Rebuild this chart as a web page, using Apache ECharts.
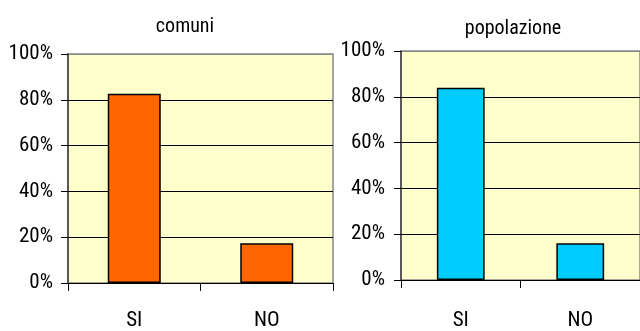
<!DOCTYPE html>
<html><head><meta charset="utf-8">
<script src="https://cdn.jsdelivr.net/npm/echarts@6/dist/echarts.min.js"></script>
<style>html,body{margin:0;padding:0;background:#fff}#c{width:640px;height:331px}</style>
</head><body><div id="c"></div>
<script>
var categories = ['SI', 'NO'];
var comuniValues = [82.6, 17.4];
var popolazioneValues = [84, 16];
var titles = ['comuni', 'popolazione'];
var yTicks = [0, 20, 40, 60, 80, 100];

var FONT = "'Roboto Condensed', 'Liberation Sans', sans-serif";
var chart = echarts.init(document.getElementById('c'));

function xAxis(gi, margin) {
  return {
    type: 'category', gridIndex: gi, data: categories,
    axisLine: {lineStyle: {color: '#000', width: 1}},
    axisTick: {show: true, length: 8, lineStyle: {color: '#000'}},
    axisLabel: {color: '#000', fontFamily: FONT, fontSize: 21, margin: margin}
  };
}
function yAxis(gi, margin) {
  return {
    type: 'value', gridIndex: gi, min: yTicks[0], max: yTicks[yTicks.length - 1], interval: 20,
    axisLine: {show: true, lineStyle: {color: '#404040', width: 1.5}},
    axisTick: {show: true, length: 7, lineStyle: {color: '#000'}},
    axisLabel: {color: '#000', fontFamily: FONT, fontSize: 21, margin: margin, formatter: '{value}%'},
    splitLine: {show: true, lineStyle: {color: ['#000', '#000', '#000', '#000', '#000', '#888'], width: 1}}
  };
}

chart.setOption({
  animation: false,
  title: [
    {text: titles[0], left: 180, top: 12, textAlign: 'center',
     textStyle: {fontFamily: FONT, fontSize: 20, fontWeight: 'normal', color: '#000'}},
    {text: titles[1], left: 508, top: 14, textAlign: 'center',
     textStyle: {fontFamily: FONT, fontSize: 20, fontWeight: 'normal', color: '#000'}}
  ],
  grid: [
    {left: 68, top: 54, width: 265, height: 230, show: true, backgroundColor: '#FFFFCC', borderColor: '#888', borderWidth: 1.5},
    {left: 401, top: 51, width: 247, height: 235, show: true, backgroundColor: '#FFFFCC', borderColor: '#888', borderWidth: 1.5}
  ],
  xAxis: [xAxis(0, 27), xAxis(1, 30)],
  yAxis: [yAxis(0, 15), yAxis(1, 16)],
  series: [
    {type: 'bar', xAxisIndex: 0, yAxisIndex: 0, data: comuniValues, barWidth: '40%',
     itemStyle: {color: '#FF6600', borderColor: '#000', borderWidth: 1.5}},
    {type: 'bar', xAxisIndex: 1, yAxisIndex: 1, data: popolazioneValues, barWidth: '40%',
     itemStyle: {color: '#00CCFF', borderColor: '#000', borderWidth: 1.5}}
  ]
});
</script></body></html>
